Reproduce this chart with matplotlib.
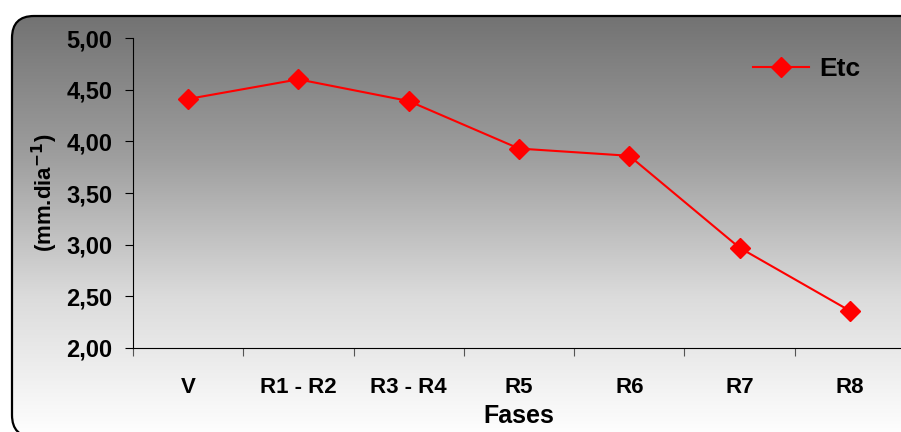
import numpy as np
import matplotlib.pyplot as plt
from matplotlib.patches import FancyBboxPatch
from matplotlib.colors import LinearSegmentedColormap

fases = ['V', 'R1 - R2', 'R3 - R4', 'R5', 'R6', 'R7', 'R8']
etc = [4.41, 4.60, 4.39, 3.93, 3.86, 2.97, 2.36]
yticks = [2.0, 2.5, 3.0, 3.5, 4.0, 4.5, 5.0]

plt.rcParams['font.family'] = ['Liberation Sans', 'DejaVu Sans']
plt.rcParams['font.weight'] = 'bold'

W, H = 901, 432
fig = plt.figure(figsize=(W / 100, H / 100), dpi=100)
fig.patch.set_facecolor('white')

# background: rounded frame filled with a grey gradient (pixel units, y up)
bg = fig.add_axes([0, 0, 1, 1])
box = FancyBboxPatch((12, -5), 918, 421, boxstyle='round,pad=0,rounding_size=22',
                     facecolor='none', edgecolor='black', linewidth=1.6, zorder=3)
bg.add_patch(box)
grad = np.linspace(0, 1, 256).reshape(-1, 1)
cmap = LinearSegmentedColormap.from_list(
    'g', [(0.45, 0.45, 0.45), (0.62, 0.62, 0.62), (0.86, 0.86, 0.86), (1, 1, 1)])
im = bg.imshow(grad, cmap=cmap, extent=[12, 930, -5, 416], aspect='auto',
               zorder=1, origin='upper')
im.set_clip_path(box)
bg.set_xlim(0, W)
bg.set_ylim(0, H)
bg.axis('off')

ax = fig.add_axes([133 / W, 1 - 348 / H, 772 / W, 310 / H])
ax.patch.set_alpha(0)
x = np.arange(len(fases))
ax.plot(x, etc, color='red', marker='D', markersize=10, linewidth=1.5, label='Etc')

ax.set_xlim(-0.5, len(fases) - 0.5)
ax.set_ylim(2.0, 5.0)
ax.set_yticks(yticks)
ax.set_yticklabels([f'{v:.2f}'.replace('.', ',') for v in yticks], fontsize=17, fontweight='bold')
ax.set_xticks(np.arange(len(fases) + 1) - 0.5)
ax.set_xticklabels([])
ax.set_xticks(x, minor=True)
ax.set_xticklabels(fases, minor=True, fontsize=16, fontweight='bold')
ax.tick_params(axis='x', which='minor', length=0, pad=21)
ax.tick_params(axis='x', which='major', length=6, color='#555555')
ax.tick_params(axis='y', length=6, pad=9)
for s in ['top', 'right']:
    ax.spines[s].set_visible(False)

ax.set_xlabel('Fases', fontsize=18, fontweight='bold', labelpad=4)
ax.set_ylabel('(mm.dia$^{\\mathbf{-1}}$)', fontsize=16, fontweight='bold', labelpad=4)

ax.legend(loc='upper right', bbox_to_anchor=(0.973, 1.015), frameon=False,
          prop={'size': 19, 'weight': 'bold'}, handlelength=2.1, handletextpad=0.4)

fig.savefig('out.png', dpi=100)
